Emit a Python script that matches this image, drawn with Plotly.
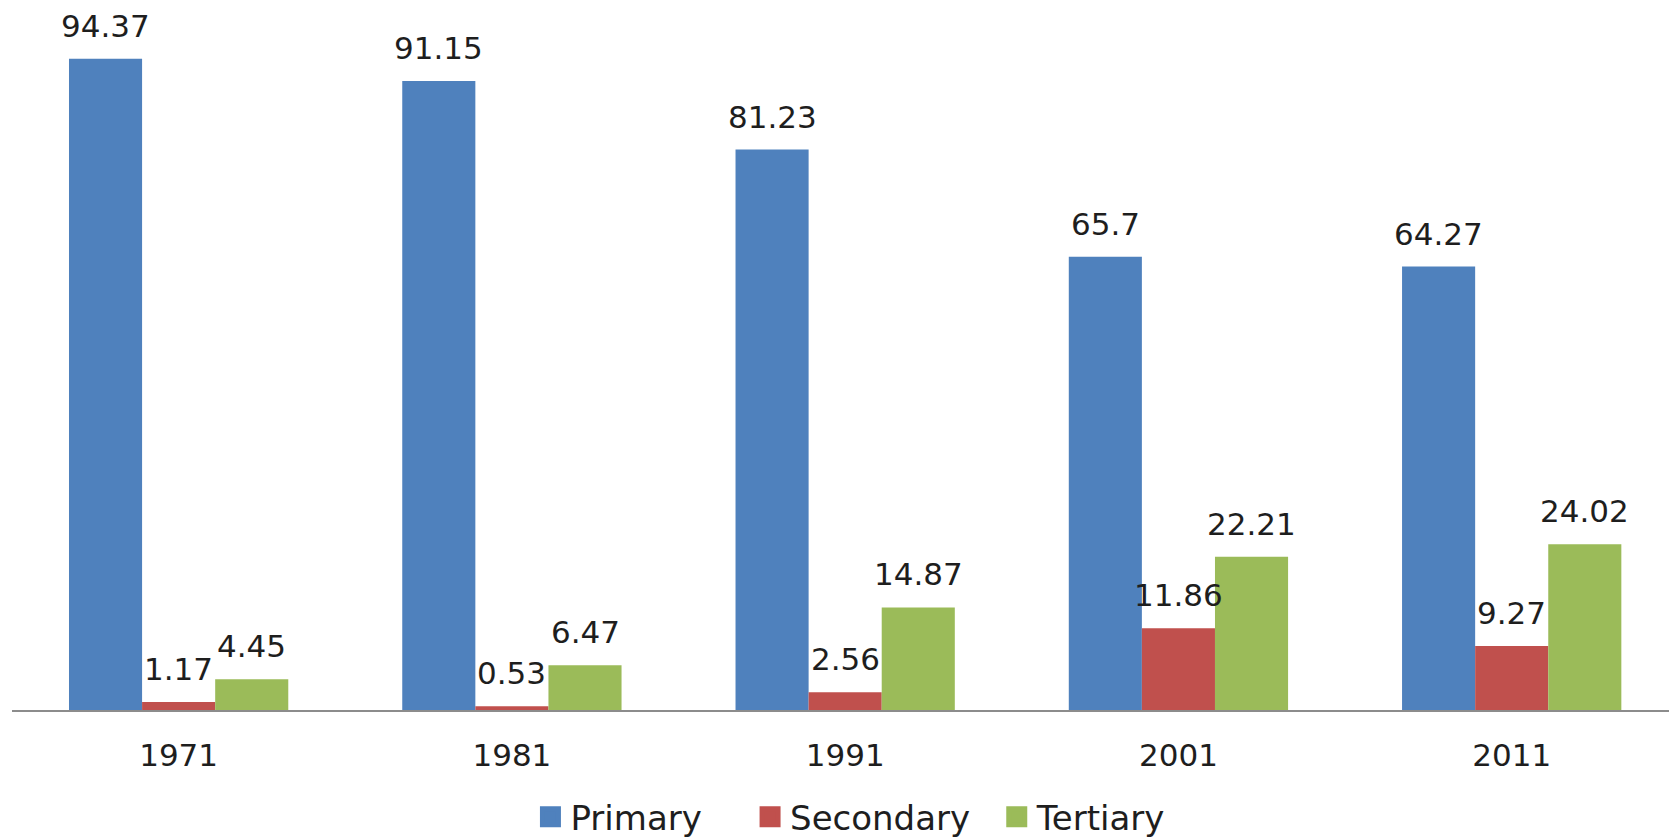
import plotly.graph_objects as go

years = ["1971", "1981", "1991", "2001", "2011"]
primary = [94.37, 91.15, 81.23, 65.7, 64.27]
secondary = [1.17, 0.53, 2.56, 11.86, 9.27]
tertiary = [4.45, 6.47, 14.87, 22.21, 24.02]
labels_primary = ["94.37", "91.15", "81.23", "65.7", "64.27"]
labels_secondary = ["1.17", "0.53", "2.56", "11.86", "9.27"]
labels_tertiary = ["4.45", "6.47", "14.87", "22.21", "24.02"]

names = ["Primary", "Secondary", "Tertiary"]
legend_pad = ["\u00a0\u00a0\u00a0\u00a0", "\u00a0\u00a0", ""]
colors = ["#4F81BD", "#C0504D", "#9BBB59"]
series = [primary, secondary, tertiary]
series_labels = [labels_primary, labels_secondary, labels_tertiary]

FONT = "DejaVu Sans"
BARGAP = 0.342
TXT = "#1E1E1E"

fig = go.Figure()
for name, col, vals in zip(names, colors, series):
    fig.add_trace(go.Bar(x=list(range(len(years))), y=vals, name=name,
                         marker=dict(color=col, line=dict(width=0)),
                         showlegend=False, hoverinfo="y"))
# legend proxies
for name, pad, col in zip(names, legend_pad, colors):
    fig.add_trace(go.Scatter(x=[None], y=[None], mode="markers", name=name + pad,
                             marker=dict(symbol="square", size=16, color=col,
                                         line=dict(color=col, width=5))))

# value labels via annotations positioned on the data axes
n = len(series)
bw = (1 - BARGAP) / n
annotations = []
for i, (vals, labs) in enumerate(zip(series, series_labels)):
    for j, (v, lab) in enumerate(zip(vals, labs)):
        annotations.append(dict(x=j + (i - (n - 1) / 2) * bw, y=v, xref="x", yref="y",
                                text=lab, showarrow=False, yanchor="bottom",
                                yshift=13, font=dict(family=FONT, size=31, color=TXT)))

fig.update_layout(
    width=1669, height=839,
    margin=dict(l=12, r=0, t=0, b=129, autoexpand=False),
    paper_bgcolor="white", plot_bgcolor="white",
    barmode="group", bargap=BARGAP, bargroupgap=0,
    font=dict(family=FONT, size=31, color=TXT),
    annotations=annotations,
    xaxis=dict(tickmode="array", tickvals=list(range(len(years))), ticktext=years,
               range=[-0.5, 4.472], showgrid=False, zeroline=False,
               showline=True, linecolor="#8C8C8C", linewidth=2,
               ticks="outside", ticklen=17, tickcolor="rgba(0,0,0,0)",
               tickfont=dict(family=FONT, size=31, color=TXT)),
    yaxis=dict(range=[0, 102.9], visible=False, showgrid=False, zeroline=False),
    legend=dict(orientation="h", x=0.506, xanchor="center", y=-0.151, yanchor="middle",
                font=dict(family=FONT, size=34, color=TXT), itemwidth=30,
                bgcolor="rgba(0,0,0,0)"),
)

fig.write_html("out.html", config={"displayModeBar": False},
               post_script="document.body.style.margin='0';document.body.style.overflow='hidden';")
